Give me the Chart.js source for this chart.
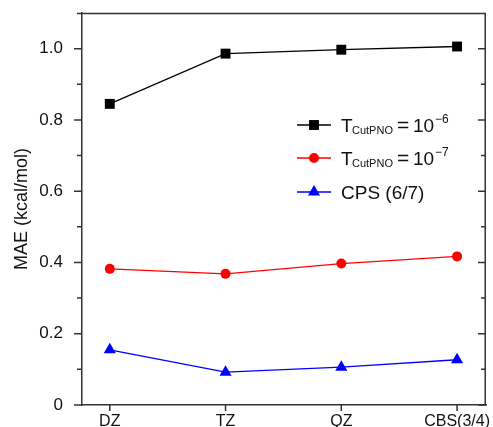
<!DOCTYPE html>
<html>
<head>
<meta charset="utf-8">
<script src="https://cdn.jsdelivr.net/npm/chart.js@4/dist/chart.umd.min.js"></script>
<style>
html, body { margin: 0; padding: 0; background: #fff; }
#wrap { width: 493px; height: 427px; }
</style>
</head>
<body>
<div id="wrap"><canvas id="maeChart"></canvas></div>
<script>
const basisSets = ['DZ', 'TZ', 'QZ', 'CBS(3/4)'];
const tcut6 = [0.845, 0.986, 0.997, 1.006];
const tcut7 = [0.382, 0.368, 0.397, 0.417];
const cps67 = [0.155, 0.092, 0.106, 0.127];

const FONT = 'Liberation Sans, Arial, Helvetica, sans-serif';
const AXIS = '#333';

function pts(vals) {
    return vals.map((v, i) => ({ x: i, y: v }));
}

// draws a marker by hand, same shapes as the datasets
function marker(ctx, style, x, y, r, color) {
    ctx.fillStyle = color;
    ctx.beginPath();
    if (style === 'rect') {
        const s = r * Math.SQRT1_2;
        ctx.rect(x - s, y - s, 2 * s, 2 * s);
    } else if (style === 'circle') {
        ctx.arc(x, y, r, 0, Math.PI * 2);
    } else {
        ctx.moveTo(x, y - r);
        ctx.lineTo(x + r * 0.866, y + r / 2);
        ctx.lineTo(x - r * 0.866, y + r / 2);
        ctx.closePath();
    }
    ctx.fill();
}

const frame = {
    id: 'frame',
    afterDraw(chart) {
        const ctx = chart.ctx;
        const a = chart.chartArea;
        const y = chart.scales.y;
        const x = chart.scales.x;
        ctx.save();
        ctx.strokeStyle = AXIS;
        ctx.lineWidth = 1.5;
        ctx.beginPath();
        ctx.moveTo(a.left - 5, a.top + 0.5);
        ctx.lineTo(a.right, a.top + 0.5);
        ctx.moveTo(a.right - 0.75, a.top);
        ctx.lineTo(a.right - 0.75, a.bottom);
        y.ticks.forEach(t => {
            if (t.value > 1.05) return;
            const py = y.getPixelForValue(t.value);
            const major = Math.round(t.value * 10) % 2 === 0;
            const len = major ? 8 : 5;
            ctx.moveTo(a.left - len, py);
            ctx.lineTo(a.left, py);
            ctx.moveTo(a.right - len, py);
            ctx.lineTo(a.right, py);
        });
        x.ticks.forEach(t => {
            const px = x.getPixelForValue(t.value);
            ctx.moveTo(px, a.bottom);
            ctx.lineTo(px, a.bottom + 6);
        });
        ctx.stroke();
        ctx.restore();
    }
};

const legendBox = {
    id: 'legendBox',
    afterDatasetsDraw(chart) {
        const ctx = chart.ctx;
        const rows = [
            { ds: 0, y: 125, sup: '\u22126' },
            { ds: 1, y: 158, sup: '\u22127' },
            { ds: 2, y: 192 }
        ];
        ctx.save();
        rows.forEach(r => {
            const d = chart.data.datasets[r.ds];
            ctx.strokeStyle = d.borderColor;
            ctx.lineWidth = 1.3;
            ctx.beginPath();
            ctx.moveTo(297, r.y);
            ctx.lineTo(331, r.y);
            ctx.stroke();
            marker(ctx, d.pointStyle, 314, r.y, d.pointRadius, d.backgroundColor);

            ctx.fillStyle = '#111';
            ctx.textBaseline = 'alphabetic';
            ctx.textAlign = 'left';
            if (r.sup) {
                ctx.font = '19px ' + FONT;
                ctx.fillText('T', 341, r.y + 7);
                ctx.font = '11px ' + FONT;
                ctx.fillText('CutPNO', 352, r.y + 9);
                ctx.font = '21px ' + FONT;
                ctx.fillText('=', 397, r.y + 7);
                ctx.font = '19px ' + FONT;
                ctx.fillText('10', 413, r.y + 7);
                ctx.font = '12px ' + FONT;
                ctx.fillText(r.sup, 435, r.y - 2);
            } else {
                ctx.font = '19px ' + FONT;
                ctx.fillText(d.label, 341, r.y + 7);
            }
        });
        ctx.restore();
    }
};

new Chart(document.getElementById('maeChart'), {
    type: 'line',
    data: {
        datasets: [
            { label: 'TCutPNO = 10-6', data: pts(tcut6), borderColor: '#000', backgroundColor: '#000', pointStyle: 'rect', pointRadius: 7 },
            { label: 'TCutPNO = 10-7', data: pts(tcut7), borderColor: '#ff0000', backgroundColor: '#ff0000', pointStyle: 'circle', pointRadius: 5 },
            { label: 'CPS (6/7)', data: pts(cps67), borderColor: '#0000ff', backgroundColor: '#0000ff', pointStyle: 'triangle', pointRadius: 7 }
        ]
    },
    options: {
        responsive: true,
        maintainAspectRatio: false,
        animation: false,
        layout: { padding: { top: 13, right: 1, left: 0, bottom: 0 } },
        elements: {
            line: { borderWidth: 1.3, tension: 0 },
            point: { borderWidth: 0, hoverRadius: 7 }
        },
        plugins: { legend: { display: false }, tooltip: { enabled: false } },
        scales: {
            x: {
                type: 'linear',
                min: -0.24,
                max: 3.25,
                afterBuildTicks: s => { s.ticks = basisSets.map((_, i) => ({ value: i })); },
                afterFit: s => { s.height = 22; s.paddingLeft = 0; s.paddingRight = 0; },
                grid: { display: false },
                border: { display: true, color: AXIS, width: 1.5 },
                ticks: {
                    autoSkip: false,
                    maxRotation: 0,
                    padding: -1,
                    color: '#111',
                    font: { family: FONT, size: 16 },
                    callback: (v, i) => basisSets[i]
                }
            },
            y: {
                min: 0,
                max: 1.1,
                afterFit: s => { s.width = 82; s.paddingTop = 0; s.paddingBottom = 0; },
                grid: { display: false },
                border: { display: true, color: AXIS, width: 1.5 },
                ticks: {
                    stepSize: 0.1,
                    padding: 11,
                    color: '#111',
                    font: { family: FONT, size: 17 },
                    callback: v => {
                        const k = Math.round(v * 10);
                        if (k === 0) return '0';
                        if (k % 2 !== 0 || k > 10) return '';
                        return (k / 10).toFixed(1);
                    }
                },
                title: {
                    display: true,
                    text: 'MAE (kcal/mol)',
                    color: '#111',
                    font: { family: FONT, size: 18 },
                    padding: { top: 11, bottom: 0 }
                }
            }
        }
    },
    plugins: [frame, legendBox]
});
</script>
</body>
</html>
